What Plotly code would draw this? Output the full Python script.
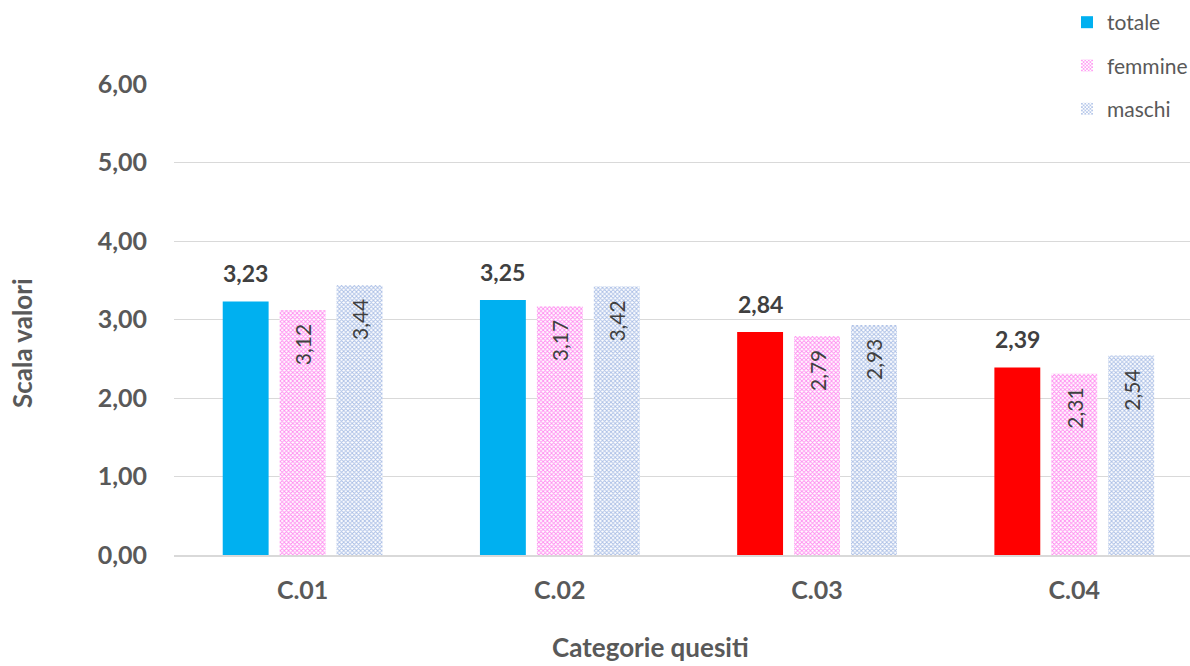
import plotly.graph_objects as go

# Valori medi per categoria di quesiti
categorie = ["C.01", "C.02", "C.03", "C.04"]
totale = [3.23, 3.25, 2.84, 2.39]
femmine = [3.12, 3.17, 2.79, 2.31]
maschi = [3.44, 3.42, 2.93, 2.54]
colori_totale = ["#00B0F0", "#00B0F0", "#FF0000", "#FF0000"]
tick_y = [0, 1, 2, 3, 4, 5, 6]

FONT = "Lato"
GRIGIO = "#595959"
SCURO = "#404040"
BARGAP = 0.336
BARGROUPGAP = 0.194


def virgola(v):
    return f"{v:.2f}".replace(".", ",")


fig = go.Figure()

fig.add_trace(go.Bar(
    name="totale", x=categorie, y=totale,
    marker=dict(color=colori_totale, line=dict(width=0)),
    legendgroup="t",
))
fig.add_trace(go.Bar(
    name="femmine", x=categorie, y=femmine,
    marker=dict(color="white", line=dict(width=0),
                pattern=dict(shape="x", size=3, solidity=0.5,
                             fgcolor="#FF8CF0", bgcolor="white", fillmode="replace")),
    texttemplate="%{y:.2f}&nbsp;&nbsp;", textposition="inside", insidetextanchor="end",
    textangle=-90, textfont=dict(family=FONT, size=21, color=SCURO),
    legendgroup="f",
))
fig.add_trace(go.Bar(
    name="maschi", x=categorie, y=maschi,
    marker=dict(color="white", line=dict(width=0),
                pattern=dict(shape="x", size=3, solidity=0.5,
                             fgcolor="#A9BEE6", bgcolor="white", fillmode="replace")),
    texttemplate="%{y:.2f}&nbsp;&nbsp;", textposition="inside", insidetextanchor="end",
    textangle=-90, textfont=dict(family=FONT, size=21, color=SCURO),
    legendgroup="m",
))

# Etichette del totale sopra la prima barra di ciascun gruppo
slot = (1 - BARGAP) / 3
etichette = [
    dict(text=f"<b>{virgola(v)}</b>", x=i - slot, y=v, xref="x", yref="y",
         xanchor="center", yanchor="bottom", yshift=12, showarrow=False,
         font=dict(family=FONT, size=23, color=SCURO))
    for i, v in enumerate(totale)
]

fig.update_layout(
    width=1190, height=666,
    margin=dict(l=174, r=0, t=84, b=111, autoexpand=False),
    paper_bgcolor="white", plot_bgcolor="white",
    barmode="group", bargap=BARGAP, bargroupgap=BARGROUPGAP,
    separators=",.",
    font=dict(family=FONT, color=GRIGIO),
    showlegend=True,
    legend=dict(x=(1067 - 174) / 1016, y=1.174, xanchor="left", yanchor="top",
                traceorder="grouped", tracegroupgap=13,
                font=dict(family=FONT, size=21, color=GRIGIO),
                itemwidth=30, bgcolor="rgba(0,0,0,0)"),
    xaxis=dict(
        type="category", range=[-0.5, 3.45],
        showgrid=False, showline=True, linecolor="#D9D9D9", linewidth=2,
        ticks="", ticklabelstandoff=12,
        tickfont=dict(family=FONT, size=25, color=GRIGIO, weight="bold"),
    ),
    yaxis=dict(
        range=[0, 6], tickvals=tick_y, tickformat=".2f",
        showgrid=True, gridcolor="#D9D9D9", gridwidth=1,
        zeroline=False, showline=False, ticks="", ticklabelstandoff=26,
        tickfont=dict(family=FONT, size=25, color=GRIGIO, weight="bold"),
    ),
    annotations=etichette + [
        dict(text="<b>Categorie quesiti</b>", xref="paper", yref="paper",
             x=(650 - 174) / 1016, y=-(665 - 555) / 471, xanchor="center", yanchor="bottom",
             showarrow=False, font=dict(family=FONT, size=26, color=GRIGIO)),
        dict(text="<b>Scala valori</b>", xref="paper", yref="paper",
             x=-(174 - 22) / 1016, y=(555 - 343) / 471, xanchor="center", yanchor="middle",
             textangle=-90, showarrow=False, font=dict(family=FONT, size=26, color=GRIGIO)),
    ],
)

fig.write_html("out.html")
